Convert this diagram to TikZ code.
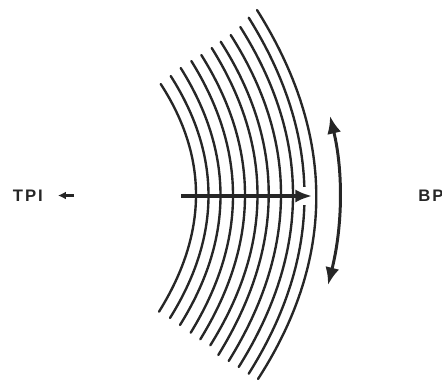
\documentclass[tikz,border=0pt]{standalone}
\usepackage{fontspec}
\setmainfont{Liberation Sans}
\newfontfamily\labelfont[LetterSpace=12]{Liberation Sans Bold}
\usetikzlibrary{positioning, arrows.meta, calc}
\tikzset{
    track/.style={line width=1.35pt, black!85, line cap=round},
    trackname/.style={font=\labelfont\fontsize{9.5}{10}\selectfont, text=black!85, inner sep=0pt, anchor=west},
    pointer/.style={line width=1.8pt, black!85, -{Latex[length=9.5pt, width=7.5pt]}},
    both/.style={line width=1.7pt, black!85, {Latex[length=10pt, width=8pt]}-{Latex[length=10pt, width=8pt]}}
}
\begin{document}
\begin{tikzpicture}[x=0.02cm, y=-0.02cm]
    \useasboundingbox (0,0) rectangle (442,379);

    % Tracks, top end / apex / bottom end
    \foreach \xs/\ys/\xa/\xe/\ye in {
        160.7/84/196/159/311.7, 170.7/76/208.5/170/318, 180.7/68/220.5/180/325,
        191.3/61/233/190.7/332.7, 201.3/55/245/200.3/339.3, 211.7/48/257.5/210.3/345.3,
        220.7/41.7/268.7/218.3/355, 230.7/35/281/228.7/361, 240.3/27/293/238.7/367,
        248.7/17.7/304.5/248.7/373.7, 257/10/316.3/258/379}{
        \pgfmathsetmacro{\xc}{2*\xa-(\xs+\xe)/2}
        \pgfmathsetmacro{\yc}{2*196-(\ys+\ye)/2}
        \draw[track] (\xs,\ys) .. controls ($(\xs,\ys)!2/3!(\xc,\yc)$) and ($(\xe,\ye)!2/3!(\xc,\yc)$) .. (\xe,\ye);
    }

    % Gap in the last but one track
    \fill[white] (298.5,187) rectangle (310,204.5);

    % Labels
    \node[trackname] (tpi) at (12.5,196) {TPI};
    \node[trackname] (bpi) at (418,196) {BPI};

    % Radial arrow
    \coordinate (radialstart) at (181,196);
    \coordinate (radialend) at (312,196);
    \draw[pointer] (radialstart) -- (radialend);

    % Small arrow beside TPI
    \coordinate (smallstart) at (74,195.5);
    \coordinate (smallend) at (58,195.5);
    \draw[line width=1.5pt, black!85, -{Latex[length=4.5pt, width=4.5pt]}] (smallstart) -- (smallend);

    % Arrow along the track
    \coordinate (alongtop) at (330,116);
    \coordinate (alongbot) at (328,285);
    \draw[both] (alongtop) .. controls (343,170) and (343,225) .. (alongbot);
\end{tikzpicture}
\end{document}
